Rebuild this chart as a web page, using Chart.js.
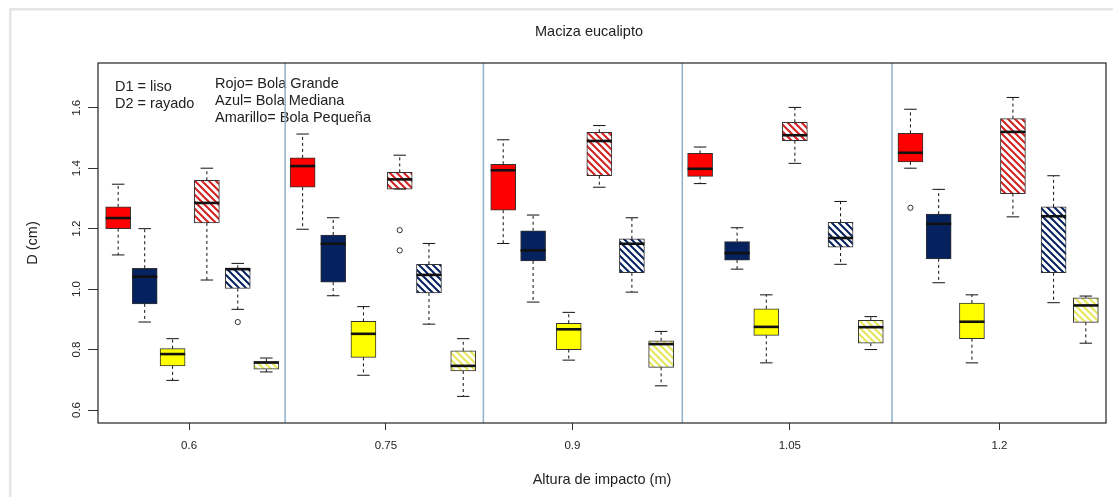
<!DOCTYPE html>
<html>
<head>
<meta charset="utf-8">
<title>Maciza eucalipto</title>
<script src="https://cdn.jsdelivr.net/npm/chart.js@4.4.1/dist/chart.umd.min.js"></script>
<style>
    html, body { margin: 0; padding: 0; background: #fff; }
    canvas { display: block; }
</style>
</head>
<body>
<canvas id="boxes-chart" width="1113" height="497"></canvas>
<script>
// alturas de impacto (m) y su posicion en el eje x
const alturas = ['0.6', '0.75', '0.9', '1.05', '1.2'];
const alturaAt = [2.71, 8.57, 14.12, 20.59, 26.83];
const separadorAt = [5.57, 11.47, 17.39, 23.63];
const yTicks = [0.6, 0.8, 1.0, 1.2, 1.4, 1.6];

// [bigote inf, q1, mediana, q3, bigote sup] por altura
const rojoD1 = [[1.113, 1.200, 1.235, 1.272, 1.347], [1.198, 1.337, 1.407, 1.434, 1.513], [1.151, 1.261, 1.393, 1.413, 1.494], [1.349, 1.373, 1.398, 1.449, 1.470], [1.400, 1.421, 1.451, 1.515, 1.595]];
const azulD1 = [[0.891, 0.951, 1.041, 1.069, 1.200], [0.978, 1.023, 1.150, 1.179, 1.236], [0.957, 1.093, 1.128, 1.193, 1.245], [1.066, 1.096, 1.119, 1.157, 1.203], [1.021, 1.100, 1.216, 1.248, 1.330]];
const amarilloD1 = [[0.698, 0.746, 0.785, 0.803, 0.836], [0.715, 0.774, 0.852, 0.893, 0.942], [0.765, 0.800, 0.867, 0.887, 0.923], [0.756, 0.847, 0.875, 0.935, 0.981], [0.756, 0.836, 0.892, 0.954, 0.981]];
const rojoD2 = [[1.030, 1.219, 1.285, 1.360, 1.400], [1.331, 1.331, 1.363, 1.386, 1.443], [1.337, 1.375, 1.490, 1.519, 1.541], [1.416, 1.491, 1.509, 1.552, 1.601], [1.239, 1.316, 1.520, 1.564, 1.634]];
const azulD2 = [[0.933, 1.002, 1.066, 1.069, 1.085], [0.884, 0.987, 1.047, 1.082, 1.151], [0.990, 1.054, 1.150, 1.166, 1.236], [1.082, 1.139, 1.169, 1.221, 1.290], [0.955, 1.054, 1.241, 1.272, 1.375]];
const amarilloD2 = [[0.726, 0.735, 0.757, 0.760, 0.772], [0.645, 0.729, 0.746, 0.796, 0.836], [0.680, 0.741, 0.818, 0.829, 0.860], [0.800, 0.821, 0.874, 0.897, 0.909], [0.821, 0.890, 0.946, 0.971, 0.977]];

// posicion x de cada caja (como "at" en boxplot)
const atRojoD1 = [0.60, 6.09, 12.06, 17.92, 24.18];
const atAzulD1 = [1.39, 7.00, 12.95, 19.02, 25.02];
const atAmarilloD1 = [2.22, 7.90, 14.01, 19.89, 26.01];
const atRojoD2 = [3.24, 8.98, 14.92, 20.74, 27.23];
const atAzulD2 = [4.16, 9.85, 15.89, 22.10, 28.44];
const atAmarilloD2 = [5.01, 10.87, 16.76, 23.00, 29.40];

// valores atipicos
const outRojoD1 = [[], [], [], [], [1.269]];
const outRojoD2 = [[], [1.195, 1.128], [], [], []];
const outAzulD2 = [[0.891], [], [], [], []];

const BOX_W = 25;
const INK = '#222';

function hatch(color) {
    let n = 7;
    let c = document.createElement('canvas');
    c.width = n;
    c.height = n;
    let g = c.getContext('2d');
    g.fillStyle = '#fff';
    g.fillRect(0, 0, n, n);
    g.strokeStyle = color;
    g.lineWidth = 2;
    g.beginPath();
    g.moveTo(-1, -1); g.lineTo(n + 1, n + 1);
    g.moveTo(-1, n - 1); g.lineTo(1, n + 1);
    g.moveTo(n - 1, -1); g.lineTo(n + 1, 1);
    g.stroke();
    return g.createPattern(c, 'repeat');
}

const series = [
    { name: 'Rojo D1', stats: rojoD1, at: atRojoD1, out: outRojoD1, fill: '#ff0000' },
    { name: 'Azul D1', stats: azulD1, at: atAzulD1, out: null, fill: '#06225e' },
    { name: 'Amarillo D1', stats: amarilloD1, at: atAmarilloD1, out: null, fill: '#ffff00' },
    { name: 'Rojo D2', stats: rojoD2, at: atRojoD2, out: outRojoD2, fill: hatch('#d42020') },
    { name: 'Azul D2', stats: azulD2, at: atAzulD2, out: outAzulD2, fill: hatch('#06225e') },
    { name: 'Amarillo D2', stats: amarilloD2, at: atAmarilloD2, out: null, fill: hatch('#e6e65a') }
];

let datasets = series.map(s => ({
    type: 'bar',
    label: s.name,
    data: s.stats.map((b, i) => ({ x: s.at[i], y: [b[1], b[3]] })),
    backgroundColor: s.fill,
    borderColor: '#333',
    borderWidth: 1,
    borderSkipped: false,
    barThickness: BOX_W,
    grouped: false
}));

let outliers = [];
series.forEach(s => {
    if (!s.out) return;
    s.out.forEach((vals, i) => vals.forEach(v => outliers.push({ x: s.at[i], y: v })));
});
datasets.push({
    type: 'scatter',
    label: 'atipicos',
    data: outliers,
    pointStyle: 'circle',
    pointRadius: 2.6,
    pointBorderColor: '#333',
    pointBackgroundColor: 'rgba(0,0,0,0)',
    pointBorderWidth: 1
});

const boxExtras = {
    id: 'boxExtras',
    beforeDraw(chart) {
        let ctx = chart.ctx;
        ctx.save();
        ctx.fillStyle = '#fff';
        ctx.fillRect(0, 0, chart.width, chart.height);
        ctx.fillStyle = '#e6e6e6';
        ctx.fillRect(9, 8, chart.width - 9, 2.5);
        ctx.fillRect(9, 8, 2.5, chart.height - 8);
        ctx.restore();
    },
    beforeDatasetsDraw(chart) {
        let ctx = chart.ctx;
        let area = chart.chartArea;
        let x = chart.scales.x;
        ctx.save();
        ctx.fillStyle = INK;
        ctx.textBaseline = 'middle';
        ctx.font = '14.5px "Liberation Sans", Arial, sans-serif';
        ctx.textAlign = 'center';
        ctx.fillText('Maciza eucalipto', 589, 31.7);
        ctx.textAlign = 'left';
        ctx.fillText('D1 = liso', 115, 86.7);
        ctx.fillText('D2 = rayado', 115, 104.3);
        ctx.fillText('Rojo= Bola Grande', 215, 84);
        ctx.fillText('Azul= Bola Mediana', 215, 101);
        ctx.fillText('Amarillo= Bola Pequeña', 215, 118.3);

        ctx.strokeStyle = '#8eb1c9';
        ctx.lineWidth = 1.5;
        separadorAt.forEach(v => {
            let px = x.getPixelForValue(v);
            ctx.beginPath();
            ctx.moveTo(px, area.top);
            ctx.lineTo(px, area.bottom);
            ctx.stroke();
        });
        ctx.restore();
    },
    afterDatasetsDraw(chart) {
        let ctx = chart.ctx;
        let area = chart.chartArea;
        let x = chart.scales.x;
        let y = chart.scales.y;
        ctx.save();
        ctx.strokeStyle = '#111';
        series.forEach(s => {
            s.stats.forEach((b, i) => {
                let cx = x.getPixelForValue(s.at[i]);
                let lo = y.getPixelForValue(b[0]);
                let q1 = y.getPixelForValue(b[1]);
                let med = y.getPixelForValue(b[2]);
                let q3 = y.getPixelForValue(b[3]);
                let hi = y.getPixelForValue(b[4]);

                ctx.lineWidth = 1;
                ctx.setLineDash([3, 3]);
                ctx.beginPath();
                ctx.moveTo(cx, q3); ctx.lineTo(cx, hi);
                ctx.moveTo(cx, q1); ctx.lineTo(cx, lo);
                ctx.stroke();

                ctx.setLineDash([]);
                ctx.beginPath();
                ctx.moveTo(cx - BOX_W / 4, hi); ctx.lineTo(cx + BOX_W / 4, hi);
                ctx.moveTo(cx - BOX_W / 4, lo); ctx.lineTo(cx + BOX_W / 4, lo);
                ctx.stroke();

                ctx.lineWidth = 2.6;
                ctx.beginPath();
                ctx.moveTo(cx - BOX_W / 2, med); ctx.lineTo(cx + BOX_W / 2, med);
                ctx.stroke();
            });
        });

        ctx.lineWidth = 1.2;
        ctx.strokeStyle = '#222';
        ctx.strokeRect(area.left, area.top, area.right - area.left, area.bottom - area.top);
        ctx.restore();
    }
};

Chart.defaults.font.family = '"Liberation Sans", Arial, sans-serif';
Chart.defaults.color = INK;

let chart = new Chart(document.getElementById('boxes-chart').getContext('2d'), {
    type: 'bar',
    data: { datasets: datasets },
    options: {
        responsive: false,
        animation: false,
        devicePixelRatio: 1,
        layout: { padding: { top: 63, right: 7, bottom: 0, left: 0 } },
        plugins: {
            legend: { display: false },
            tooltip: { enabled: false },
            title: { display: false }
        },
        scales: {
            x: {
                type: 'linear',
                min: 0,
                max: 30,
                offset: false,
                afterFit: s => { s.height = 74; },
                afterBuildTicks: s => { s.ticks = alturaAt.map(v => ({ value: v })); },
                ticks: {
                    callback: (v, i) => alturas[i],
                    autoSkip: false,
                    maxRotation: 0,
                    padding: 9,
                    font: { size: 11.5 }
                },
                grid: { display: true, drawOnChartArea: false, drawTicks: true, tickLength: 7, tickColor: '#333', offset: false },
                border: { display: false },
                title: { display: true, text: 'Altura de impacto (m)', font: { size: 14.5 }, padding: { top: 0, bottom: 8.3 } }
            },
            y: {
                type: 'linear',
                min: 0.557,
                max: 1.748,
                afterFit: s => { s.width = 98; },
                afterBuildTicks: s => { s.ticks = yTicks.map(v => ({ value: v })); },
                ticks: {
                    callback: v => v.toFixed(1),
                    autoSkip: false,
                    minRotation: 90,
                    maxRotation: 90,
                    crossAlign: 'center',
                    padding: 3,
                    font: { size: 11.5 }
                },
                grid: { display: true, drawOnChartArea: false, drawTicks: true, tickLength: 10, tickColor: '#333' },
                border: { display: false },
                title: { display: true, text: 'D (cm)', font: { size: 14.5 }, padding: { top: 24, bottom: 0 } }
            }
        }
    },
    plugins: [boxExtras]
});
</script>
</body>
</html>
